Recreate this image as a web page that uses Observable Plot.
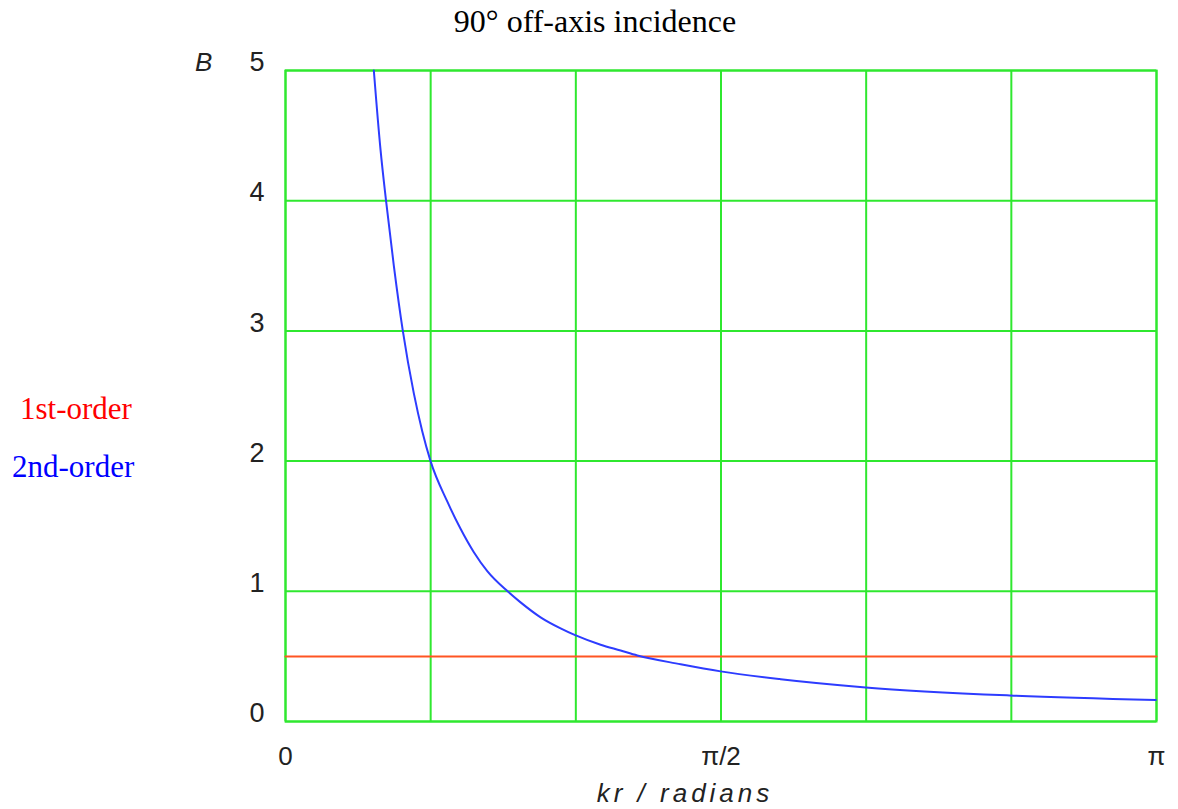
<!DOCTYPE html>
<html><head><meta charset="utf-8">
<script src="https://cdn.jsdelivr.net/npm/d3@7"></script>
<script src="https://cdn.jsdelivr.net/npm/@observablehq/plot@0.6"></script>
<style>
body{margin:0;background:#fff;}
#wrap{position:relative;width:1178px;height:809px;overflow:hidden;}
.t{position:absolute;white-space:nowrap;font-family:"Liberation Serif","Times New Roman",serif;font-size:31px;line-height:1;}
.s{position:absolute;white-space:nowrap;font-family:"Liberation Sans",Arial,sans-serif;font-size:26px;line-height:1;font-style:italic;color:#222;}
</style></head><body>
<div id="wrap"></div>
<script>
// ---- data ----
const title = "90° off-axis incidence";
const seriesNames = ["1st-order", "2nd-order"];
const yTicks = [0, 1, 2, 3, 4, 5];
const xTicks = [0, Math.PI / 2, Math.PI];
const xTickLabels = ["0", "π/2", "π"];
const xGrid = [0, Math.PI / 6, Math.PI / 3, Math.PI / 2, 2 * Math.PI / 3, 5 * Math.PI / 6, Math.PI];
const firstKr = [0, Math.PI];
const firstB = [0.5, 0.5];
const secondKr = [0.3186, 0.3428, 0.3626, 0.3908, 0.4232, 0.4629, 0.4932, 0.5232, 0.5834, 0.6314, 0.6794, 0.7278, 0.8010, 0.8479, 0.9201, 0.9922, 1.0427, 1.1366, 1.2088, 1.2690, 1.4252, 1.5696, 1.7861, 2.0928, 2.6123, 3.1391];
const secondB  = [5.0,    4.39,   4.0,    3.50,   3.0,    2.52,   2.23,   2.0,    1.69,   1.48,   1.30,   1.155,  1.0,    0.915,  0.80,   0.715,  0.665,  0.59,   0.545,  0.507,  0.44,   0.385,  0.325,  0.262,  0.20,   0.165];

const first = firstKr.map((k, i) => ({kr: k, B: firstB[i]}));
const second = secondKr.map((k, i) => ({kr: k, B: secondB[i]}));

const green = "#2fe82f";
const chart = Plot.plot({
  width: 1178,
  height: 809,
  marginLeft: 285,
  marginRight: 22,
  marginTop: 70,
  marginBottom: 88,
  style: {fontFamily: "Liberation Sans, Arial, sans-serif", fontSize: "26px", color: "#222", background: "#fff"},
  x: {domain: [0, Math.PI]},
  y: {domain: [0, 5]},
  marks: [
    Plot.gridY(yTicks, {stroke: green, strokeOpacity: 1, strokeWidth: 2}),
    Plot.gridX(xGrid, {stroke: green, strokeOpacity: 1, strokeWidth: 2}),
    Plot.frame({stroke: green, strokeWidth: 2}),
    Plot.line(first, {x: "kr", y: "B", stroke: "#ff5522", strokeWidth: 2}),
    Plot.line(second, {x: "kr", y: "B", stroke: "#2d3cff", strokeWidth: 2, curve: "monotone-x"}),
    Plot.axisY(yTicks, {tickSize: 0, tickPadding: 21, dy: -8, fontSize: 27, label: null, tickFormat: (d) => String(d)}),
    Plot.axisX(xTicks, {tickSize: 0, tickPadding: 25, fontSize: 26, label: null,
      tickFormat: (d) => xTickLabels[xTicks.indexOf(d)]})
  ]
});
const wrap = document.getElementById("wrap");
chart.style.position = "absolute";
chart.style.left = "0";
chart.style.top = "0";
wrap.appendChild(chart);

function addText(cls, txt, css) {
  const d = document.createElement("div");
  d.className = cls;
  d.textContent = txt;
  Object.assign(d.style, css);
  wrap.appendChild(d);
}
addText("t", title, {left: "0px", width: "1190px", textAlign: "center", top: "5px", color: "#000", fontSize: "32px"});
addText("t", seriesNames[0], {left: "20px", top: "393px", color: "#ff0000"});
addText("t", seriesNames[1], {left: "12px", top: "451px", color: "#0000ff"});
addText("s", "B", {left: "195px", top: "49px"});
addText("s", "kr / radians", {left: "0px", width: "1370px", textAlign: "center", top: "780px", letterSpacing: "4px"});
</script>
</body></html>
